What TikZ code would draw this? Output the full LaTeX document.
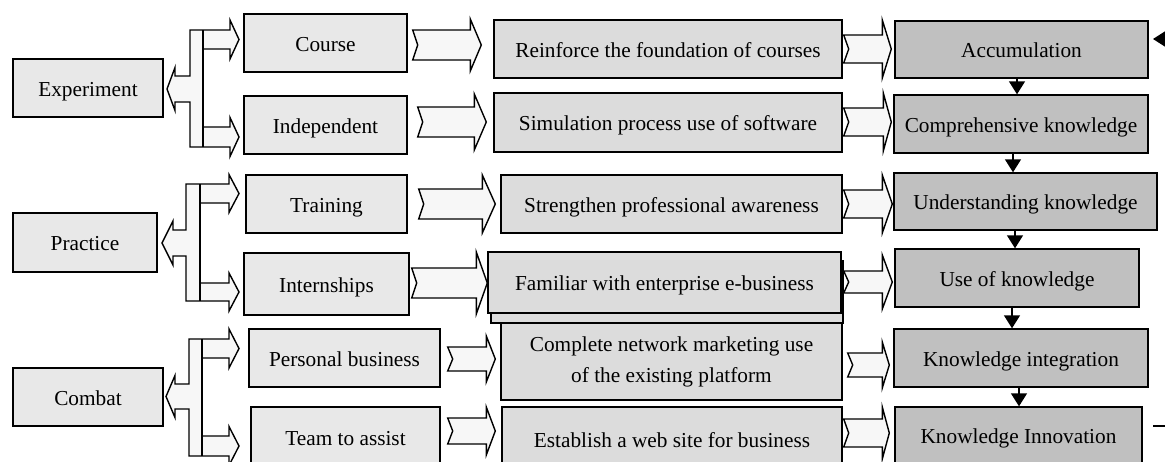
\documentclass[tikz,border=0pt]{standalone}
\usepackage{fontspec}
\setmainfont{Liberation Serif}
\usetikzlibrary{arrows.meta,calc}
\definecolor{cA}{HTML}{E8E8E8}
\definecolor{cB}{HTML}{DCDCDC}
\definecolor{cC}{HTML}{C0C0C0}
\definecolor{cF}{HTML}{F7F7F7}
\newcommand\fatarr[8]{%
 \path[fatarrow] let \p1=([xshift=#3]#1.east), \p2=([xshift=-#4]#2.west), \p3=(0,#5) in
  (\x1,{\y3+#6pt}) -- ({\x2-#8pt},{\y3+#6pt}) -- ({\x2-#8pt},{\y3+#7pt}) -- (\x2,\y3)
  -- ({\x2-#8pt},{\y3-#7pt}) -- ({\x2-#8pt},{\y3-#6pt}) -- (\x1,{\y3-#6pt}) -- ({\x1+5pt},\y3) -- cycle;}
\begin{document}
\begin{tikzpicture}[x=1pt,y=-1pt,
  every node/.style={font=\fontsize{21.3}{25}\selectfont},
  box/.style={draw, line width=1.4pt, inner sep=0pt, text height=18pt, text depth=2pt},
  boxA/.style={box, fill=cA},
  boxB/.style={box, fill=cB},
  boxC/.style={box, fill=cC},
  fatarrow/.style={draw, line width=1.4pt, fill=cF, line join=miter},
  downarrow/.style={line width=1.4pt, -{Triangle[width=16pt,length=13pt]}},
  fbline/.style={line width=1.4pt, -{Triangle[width=15pt,length=12pt]}}
]
\useasboundingbox (0,0) rectangle (1165,461);
\clip (0,0) rectangle (1165,461);

% column 1
\node[boxA, minimum width=150, minimum height=58] (exper) at (88,88) {Experiment};
\node[boxA, minimum width=144, minimum height=59] (pract) at (85,242.5) {Practice};
\node[boxA, minimum width=150, minimum height=58] (combat) at (88,397) {Combat};

% forks
\draw[fatarrow] (167,89) -- (175,67.5) -- (175,76) -- (190,76) -- (190,30) -- (230,30) -- (230,20)
  -- (239,39.5) -- (230,59) -- (230,49) -- (203,49) -- (203,127) -- (230,127) -- (230,117.5)
  -- (239,137) -- (230,156.5) -- (230,147) -- (190,147) -- (190,102) -- (175,102) -- (175,110.5) -- cycle;
\draw[line width=1.4pt] (203,30) -- (203,147);
\draw[fatarrow] (162,243) -- (173,221) -- (173,230) -- (186,230) -- (186,184) -- (229,184) -- (229,174.5)
  -- (239,193.5) -- (229,212.5) -- (229,203) -- (200,203) -- (200,283) -- (229,283) -- (229,273)
  -- (239,292) -- (229,311) -- (229,301) -- (186,301) -- (186,256) -- (173,256) -- (173,265) -- cycle;
\draw[line width=1.4pt] (200,184) -- (200,301);
\draw[fatarrow] (166,396.5) -- (175,375.5) -- (175,384) -- (189,384) -- (189,339) -- (229,339) -- (229,329)
  -- (239,348.5) -- (229,368) -- (229,358) -- (202,358) -- (202,436) -- (229,436) -- (229,426.5)
  -- (239,446) -- (229,465.5) -- (229,456) -- (189,456) -- (189,409) -- (175,409) -- (175,417.5) -- cycle;
\draw[line width=1.4pt] (202,339) -- (202,456);

% column 2
\node[boxA, minimum width=163, minimum height=58] (course) at (325.5,43) {Course};
\node[boxA, minimum width=163, minimum height=58] (indep) at (325.5,125) {Independent};
\node[boxA, minimum width=161, minimum height=58] (train) at (326.5,204) {Training};
\node[boxA, minimum width=165, minimum height=62] (intern) at (326.5,284) {Internships};
\node[boxA, minimum width=191, minimum height=58] (pers) at (344.5,358) {Personal business};
\node[boxA, minimum width=189, minimum height=60] (team) at (345.5,437) {Team to assist};

% column 3
\node[boxB, minimum width=348, minimum height=58] (reinf) at (668,49) {Reinforce the foundation of courses};
\node[boxB, minimum width=348, minimum height=59] (sim) at (668,122.5) {Simulation process use of software};
\node[boxB, minimum width=341, minimum height=58] (stren) at (671.5,204) {Strengthen professional awareness};
\draw[fill=cB, line width=1.4pt] (491,261) rectangle (843,323);
\node[boxB, minimum width=353, minimum height=61] (famil) at (664.5,282.5) {Familiar with enterprise e-business};
\node[draw, line width=1.4pt, fill=cB, inner sep=0pt, minimum width=341, minimum height=77, align=center,
  font=\fontsize{21.3}{31}\selectfont] (compl) at (671.5,361.5) {Complete network marketing use\\of the existing platform};
\node[boxB, minimum width=340, minimum height=64] (estab) at (672,439) {Establish a web site for business};

% column 4
\node[boxC, minimum width=253, minimum height=57] (accum) at (1021.5,49.5) {Accumulation};
\node[boxC, minimum width=254, minimum height=58] (comp) at (1021,124) {Comprehensive knowledge};
\node[boxC, minimum width=263, minimum height=57] (under) at (1025.5,201.5) {Understanding knowledge};
\node[boxC, minimum width=244, minimum height=58] (use) at (1017,278) {Use of knowledge};
\node[boxC, minimum width=254, minimum height=58] (integ) at (1021,358) {Knowledge integration};
\node[boxC, minimum width=247, minimum height=56] (innov) at (1018.5,435) {Knowledge Innovation};

% fat arrows col2 -> col3
\fatarr{course}{reinf}{5}{12}{45}{15}{26}{11}
\fatarr{indep}{sim}{10}{7}{122}{15}{28}{12}
\fatarr{train}{stren}{11}{5}{204}{15}{29}{13}
\fatarr{intern}{famil}{2}{0}{283}{15}{31}{11}
\fatarr{pers}{compl}{7}{5}{359}{12}{23}{9}
\fatarr{team}{estab}{7}{6}{431}{13}{24}{9}
% fat arrows col3 -> col4
\fatarr{reinf}{accum}{1}{3}{49}{14}{29}{9}
\fatarr{sim}{comp}{1}{2}{122}{14}{29}{8}
\fatarr{stren}{under}{1}{1}{204}{14}{29}{10}
\fatarr{famil}{use}{2}{2}{282}{11}{27}{10}
\fatarr{compl}{integ}{5}{4}{365}{12}{23}{7}
\fatarr{estab}{innov}{1}{5}{433}{14}{26}{7}

% down arrows
\draw[downarrow] (accum.south -| 1017,0) -- (comp.north -| 1017,0);
\draw[downarrow] (comp.south -| 1013,0) -- (under.north -| 1013,0);
\draw[downarrow] (under.south -| 1015,0) -- (use.north -| 1015,0);
\draw[downarrow] (use.south -| 1012,0) -- (integ.north -| 1012,0);
\draw[downarrow] (integ.south -| 1019,0) -- (innov.north -| 1019,0);

% feedback loop (mostly off the picture)
\coordinate (fbA) at (1153,426);
\coordinate (fbB) at (1195,426);
\coordinate (fbC) at (1195,39);
\coordinate (fbD) at (1153,39);
\draw[fbline] (fbA) -- (fbB) -- (fbC) -- (fbD);
\end{tikzpicture}
\end{document}
